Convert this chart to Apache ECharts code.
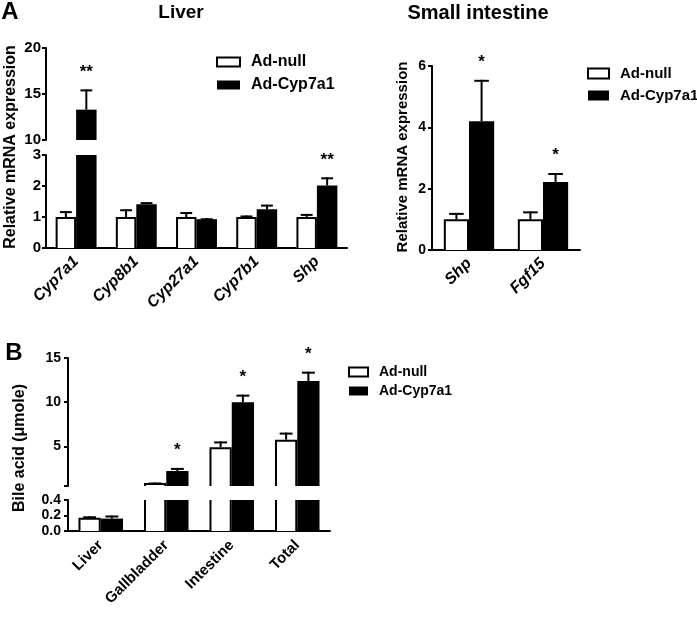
<!DOCTYPE html>
<html>
<head>
<meta charset="utf-8">
<title>Ad-Cyp7a1 mRNA and bile acid</title>
<script src="https://cdn.jsdelivr.net/npm/echarts@6.0.0/dist/echarts.min.js"></script>
<style>
html, body { margin: 0; padding: 0; background: #fff; }
#main { width: 697px; height: 617px; }
</style>
</head>
<body>
<div id="main"></div>
<script>
// ---- data ----
var liverGenes = ['Cyp7a1', 'Cyp8b1', 'Cyp27a1', 'Cyp7b1', 'Shp'];
var liverNull = [1.0, 1.0, 1.0, 1.0, 1.0];
var liverNullErr = [0.19, 0.25, 0.16, 0.05, 0.1];
var liverCyp = [13.3, 1.41, 0.93, 1.25, 2.02];
var liverCypErr = [2.2, 0.07, 0.03, 0.15, 0.26];
var liverSig = ['**', '', '', '', '**'];

var siGenes = ['Shp', 'Fgf15'];
var siNull = [1.0, 1.0];
var siNullErr = [0.21, 0.26];
var siCyp = [4.2, 2.22];
var siCypErr = [1.35, 0.29];
var siSig = ['*', '*'];

var baSites = ['Liver', 'Gallbladder', 'Intestine', 'Total'];
var baNull = [0.17, 0.85, 4.9, 5.75];
var baNullErr = [0.02, 0.05, 0.65, 0.8];
var baCyp = [0.16, 2.2, 10.0, 12.4];
var baCypErr = [0.04, 0.35, 0.85, 1.05];
var baSig = ['', '*', '*', '*'];

var FONT = '"Liberation Sans", Arial, sans-serif';

// draws one bar (+ error whisker + star) inside one axis segment
function barRenderer(vals, errs, sigs, side, fill, starSize) {
    return function (params, api) {
        var i = params.dataIndex, v = vals[i], e = errs[i];
        var cs = params.coordSys;
        var top = cs.y, bottom = cs.y + cs.height;
        var c = api.coord([i, 0])[0];
        var w = api.size([1, 0])[0] * 0.34;
        var x0 = side < 0 ? c - w : c, x1 = x0 + w, xc = (x0 + x1) / 2;
        var y = api.coord([i, v])[1];
        if (y >= bottom - 0.5) return;
        var cut = y < top;
        if (cut) y = top;
        var kids = [{ type: 'rect', shape: { x: x0, y: y, width: w, height: bottom - y }, style: { fill: fill } }];
        var line = { stroke: '#000', lineWidth: 2, fill: null };
        if (fill !== '#000') {
            if (cut) {
                kids.push({ type: 'line', shape: { x1: x0 + 1, y1: bottom, x2: x0 + 1, y2: top }, style: line });
                kids.push({ type: 'line', shape: { x1: x1 - 1, y1: bottom, x2: x1 - 1, y2: top }, style: line });
            } else {
                kids.push({ type: 'polyline', shape: { points: [[x0 + 1, bottom], [x0 + 1, y + 1], [x1 - 1, y + 1], [x1 - 1, bottom]] }, style: line });
            }
        }
        if (!cut) {
            var ye = api.coord([i, v + e])[1];
            if (ye < top) ye = top;
            var cap = w * 0.29;
            kids.push({ type: 'line', shape: { x1: xc, y1: y, x2: xc, y2: ye }, style: line });
            kids.push({ type: 'line', shape: { x1: xc - cap, y1: ye + 1, x2: xc + cap, y2: ye + 1 }, style: line });
            if (sigs[i]) {
                kids.push({ type: 'text', style: { text: sigs[i], x: xc, y: ye - 9, textAlign: 'center', textVerticalAlign: 'bottom',
                    font: 'bold ' + starSize + 'px ' + FONT, fill: '#000' } });
            }
        }
        return { type: 'group', children: kids };
    };
}

function pair(xi, vals, errs, sigs, nullVals, nullErrs, starSize) {
    return [
        { name: 'Ad-null', type: 'custom', xAxisIndex: xi, yAxisIndex: xi,
          itemStyle: { color: '#fff', borderColor: '#000', borderWidth: 2 },
          renderItem: barRenderer(nullVals, nullErrs, sigs.map(function () { return ''; }), -1, '#fff', starSize),
          data: nullVals.map(function (v, i) { return [i, v]; }) },
        { name: 'Ad-Cyp7a1', type: 'custom', xAxisIndex: xi, yAxisIndex: xi,
          itemStyle: { color: '#000' },
          renderItem: barRenderer(vals, errs, sigs, 1, '#000', starSize),
          data: vals.map(function (v, i) { return [i, v]; }) }
    ];
}

function catAxis(grid, cats, size, italic, show, margin) {
    return {
        type: 'category', gridIndex: grid, data: cats, show: show,
        axisLine: { lineStyle: { color: '#000', width: 2 } },
        axisTick: { alignWithLabel: true, length: 5, lineStyle: { color: '#000', width: 2 } },
        axisLabel: { interval: 0, rotate: 45, margin: margin, color: '#000', fontWeight: 'bold',
            fontStyle: italic ? 'italic' : 'normal', fontSize: size, fontFamily: FONT }
    };
}

function valAxis(grid, min, max, step, size, margin) {
    return {
        type: 'value', gridIndex: grid, min: min, max: max, interval: step,
        axisLine: { show: true, lineStyle: { color: '#000', width: 2 } },
        axisTick: { show: true, length: 4, lineStyle: { color: '#000', width: 2 } },
        axisLabel: { color: '#000', fontWeight: 'bold', fontSize: size, fontFamily: FONT, margin: margin },
        splitLine: { show: false }
    };
}

function legendAt(left, top, size, bw, bh, gap) {
    return {
        orient: 'vertical', left: left, top: top, padding: 0, itemWidth: bw, itemHeight: bh, itemGap: gap,
        selectedMode: false,
        textStyle: { fontSize: size, fontWeight: 'bold', color: '#000', fontFamily: FONT, padding: [0, 0, 0, 6] },
        data: [
            { name: 'Ad-null', icon: 'rect', itemStyle: { color: '#fff', borderColor: '#000', borderWidth: 2 } },
            { name: 'Ad-Cyp7a1', icon: 'rect', itemStyle: { color: '#000', borderWidth: 0 } }
        ]
    };
}

function label(text, x, y, size, rot) {
    return { type: 'text', x: x, y: y, rotation: rot || 0,
        style: { text: text, textAlign: 'center', textVerticalAlign: 'middle', fill: '#000',
            font: 'bold ' + size + 'px ' + FONT } };
}

var chart = echarts.init(document.getElementById('main'));

var baUpper = valAxis(4, 0.5, 15, null, 14, 7);
delete baUpper.interval;
baUpper.axisTick.customValues = [0.5, 5, 10, 15];
baUpper.axisLabel.customValues = [5, 10, 15];
var baLower = valAxis(3, 0, 0.4, 0.2, 14, 7);
baLower.axisLabel.formatter = function (v) { return v.toFixed(1); };

var option = {
    backgroundColor: '#fff',
    animation: false,
    grid: [
        { left: 46, top: 155, width: 301, height: 93 },
        { left: 46, top: 48, width: 301, height: 92 },
        { left: 432, top: 66, width: 148, height: 184 },
        { left: 68, top: 500, width: 262, height: 31 },
        { left: 68, top: 358, width: 262, height: 128 }
    ],
    xAxis: [
        catAxis(0, liverGenes, 16, true, true, 11),
        catAxis(1, liverGenes, 16, true, false, 11),
        catAxis(2, siGenes, 16, true, true, 11),
        catAxis(3, baSites, 15, false, true, 12),
        catAxis(4, baSites, 15, false, false, 12)
    ],
    yAxis: [
        valAxis(0, 0, 3, 1, 15, 5),
        valAxis(1, 10, 20, 5, 15, 5),
        valAxis(2, 0, 6, 2, 14, 6),
        baLower,
        baUpper
    ],
    legend: [
        legendAt(216, 54, 16, 23, 9, 7),
        legendAt(587, 66, 15, 21, 10, 7),
        legendAt(348, 365, 14, 19, 9, 5)
    ],
    graphic: [
        label('A', 10, 12, 24),
        label('B', 14, 353, 24),
        label('Liver', 181, 13, 19),
        label('Small intestine', 478, 13, 20),
        label('Relative mRNA expression', 11, 147, 16, Math.PI / 2),
        label('Relative mRNA expression', 403, 157, 15, Math.PI / 2),
        label('Bile acid (\u03bcmole)', 20, 448, 16, Math.PI / 2)
    ],
    series: [].concat(
        pair(0, liverCyp, liverCypErr, liverSig, liverNull, liverNullErr, 17),
        pair(1, liverCyp, liverCypErr, liverSig, liverNull, liverNullErr, 17),
        pair(2, siCyp, siCypErr, siSig, siNull, siNullErr, 17),
        pair(3, baCyp, baCypErr, baSig, baNull, baNullErr, 17),
        pair(4, baCyp, baCypErr, baSig, baNull, baNullErr, 17)
    )
};
chart.setOption(option);
</script>
</body>
</html>
